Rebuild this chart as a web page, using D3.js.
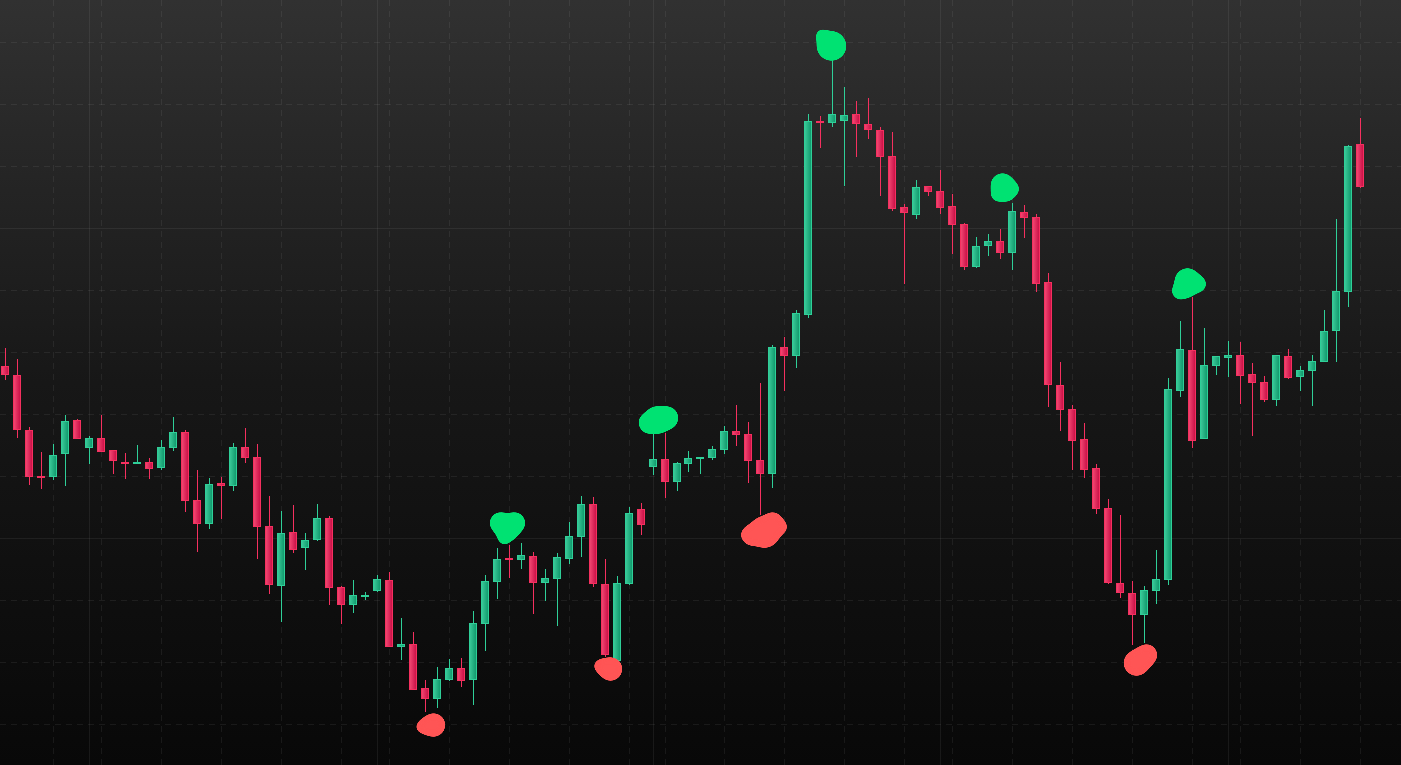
<!DOCTYPE html>
<html>
<head>
<meta charset="utf-8">
<script src="https://cdn.jsdelivr.net/npm/d3@7"></script>
<style>
  html, body { margin: 0; padding: 0; background: #0a0a0a; overflow: hidden; }
</style>
</head>
<body>
<div id="chart-area"></div>
<script>
// daily candles, oldest first
var opens = [43.4, 42.5, 37.0, 32.4, 32.3, 34.6, 38.0, 35.2, 36.2, 35.0,
    33.8, 33.8, 33.8, 33.2, 35.2, 36.8, 30.0, 27.6, 31.7, 31.4,
    35.3, 34.3, 27.4, 21.4, 26.8, 25.2, 26.0, 28.2, 21.3, 19.5,
    20.5, 20.9, 22.0, 15.3, 15.6, 11.2, 10.1, 12.0, 13.2, 12.0,
    17.6, 21.8, 24.2, 24.0, 24.4, 21.7, 22.1, 24.1, 26.3, 29.6,
    21.6, 13.9, 21.6, 29.1, 33.3, 34.1, 31.8, 33.6, 34.2, 34.2,
    35.0, 36.9, 36.6, 34.0, 32.6, 45.3, 44.4, 48.5, 67.9, 67.7,
    67.9, 68.6, 67.6, 67.0, 64.4, 59.3, 58.5, 61.4, 60.9, 59.4,
    57.6, 53.3, 55.4, 55.9, 54.7, 58.8, 58.3, 51.8, 41.5, 39.1,
    36.1, 33.2, 29.2, 21.7, 20.7, 18.5, 20.9, 22.0, 40.9, 45.0,
    36.1, 43.4, 44.2, 44.5, 42.6, 41.8, 40.0, 44.4, 42.3, 42.9,
    43.8, 46.9, 50.8, 65.6];
var highs = [45.2, 44.1, 37.3, 34.8, 35.6, 38.5, 38.1, 36.4, 38.5, 35.0,
    34.7, 35.5, 34.2, 36.0, 38.3, 37.0, 33.0, 32.2, 32.3, 35.7,
    37.2, 35.6, 30.4, 28.9, 29.5, 26.7, 29.6, 28.4, 21.4, 22.0,
    20.8, 22.5, 22.8, 18.2, 16.8, 12.0, 13.3, 14.1, 14.2, 18.9,
    22.5, 25.2, 25.5, 25.7, 24.8, 23.1, 24.7, 27.8, 30.4, 30.3,
    24.1, 22.4, 29.3, 29.7, 36.7, 36.7, 33.8, 34.9, 34.3, 35.4,
    37.4, 39.5, 37.8, 41.7, 45.5, 46.3, 49.0, 68.6, 68.4, 74.0,
    71.3, 69.9, 70.2, 67.3, 66.8, 59.6, 62.0, 61.4, 63.0, 60.6,
    57.7, 56.3, 56.6, 57.1, 59.7, 59.5, 58.6, 52.7, 43.8, 39.5,
    37.7, 33.6, 30.1, 28.5, 21.9, 21.4, 25.0, 42.2, 47.9, 50.3,
    47.2, 44.4, 45.9, 45.8, 43.7, 42.4, 44.5, 45.1, 43.4, 44.5,
    49.0, 58.1, 65.5, 68.2];
var lows = [42.0, 36.2, 31.5, 31.1, 32.0, 31.4, 36.1, 33.6, 34.8, 32.6,
    32.1, 33.8, 32.1, 33.0, 34.9, 28.8, 24.8, 27.1, 28.1, 30.9,
    33.7, 24.1, 20.6, 17.8, 24.7, 23.0, 25.9, 19.5, 17.6, 18.7,
    20.0, 20.8, 15.3, 14.0, 11.0, 8.8, 9.2, 11.9, 11.3, 9.5,
    14.9, 20.1, 22.2, 23.1, 18.6, 19.9, 17.4, 23.6, 24.3, 21.3,
    14.3, 13.6, 21.5, 26.5, 32.5, 30.2, 30.9, 32.8, 32.6, 34.0,
    34.6, 35.4, 31.7, 28.5, 31.2, 40.9, 43.2, 48.2, 65.2, 67.3,
    61.4, 64.3, 66.1, 60.4, 58.9, 51.6, 58.1, 60.4, 58.6, 54.6,
    53.0, 53.2, 54.4, 54.1, 53.0, 56.2, 50.8, 39.3, 36.9, 33.0,
    32.2, 28.6, 21.6, 20.2, 15.5, 15.7, 19.6, 21.5, 40.3, 35.2,
    36.1, 42.5, 42.3, 39.6, 36.4, 39.8, 39.4, 42.1, 40.9, 39.4,
    43.8, 43.8, 49.3, 61.2];
var closes = [42.5, 37.0, 32.3, 32.3, 34.5, 37.9, 36.1, 36.2, 34.8, 33.9,
    33.75, 33.85, 33.1, 35.3, 36.8, 29.9, 27.6, 31.6, 31.4, 35.3,
    34.2, 27.3, 21.5, 26.7, 25.0, 26.0, 28.2, 21.2, 19.5, 20.5,
    20.55, 22.1, 15.3, 15.6, 11.0, 10.1, 12.1, 13.2, 11.9, 17.7,
    21.9, 24.1, 24.1, 24.5, 21.7, 22.2, 24.3, 26.4, 29.6, 21.6,
    14.5, 21.7, 28.7, 27.5, 34.1, 31.8, 33.7, 34.2, 34.3, 35.1,
    36.9, 36.5, 33.9, 32.6, 45.3, 44.4, 48.7, 67.9, 67.8, 68.6,
    68.5, 67.6, 67.0, 64.3, 59.1, 58.7, 61.3, 60.8, 59.2, 57.5,
    53.3, 55.4, 55.9, 54.7, 58.9, 58.2, 51.6, 41.5, 39.0, 35.9,
    33.0, 29.1, 21.7, 20.7, 18.5, 21.0, 22.1, 41.1, 45.1, 35.9,
    43.5, 44.4, 44.5, 42.4, 41.7, 40.0, 44.5, 42.2, 43.0, 43.9,
    46.9, 50.9, 65.4, 61.3];

// grid: price levels, weekly and monthly session indices
var gridLevels = [75.8, 69.6, 63.4, 57.2, 51.0, 44.8, 38.6, 32.4, 26.2, 20.0, 13.8, 7.6];
var majorLevels = [57.2, 26.2];
var weekTicks = [4, 8, 13, 18, 23, 28, 32, 37, 42, 47, 52, 55, 60, 65, 70, 75, 79, 84, 89, 94, 99, 103, 108, 113];
var monthTicks = [7, 31, 54, 78, 102];

// swing markers
var markerCandles = [35, 42, 50, 55, 63, 69, 84, 94, 99];
var markerSides = ["low", "high", "low", "high", "low", "high", "high", "low", "high"];

var width = 1401,
    height = 765;

var candles = opens.map(function (o, i) {
    return {i: i, open: o, high: highs[i], low: lows[i], close: closes[i]};
});

var svg = d3.select("#chart-area")
    .append("svg")
    .attr("width", width)
    .attr("height", height)
    .style("display", "block");

var x = d3.scaleLinear()
    .domain([0, candles.length - 1])
    .range([5.5, 1360.5]);

var y = d3.scaleLinear()
    .domain([3.5, 80])
    .range([height, 0]);

function cx(i) { return Math.floor(x(i)) + 0.5; }

var defs = svg.append("defs");

var bg = defs.append("linearGradient")
    .attr("id", "bg")
    .attr("x1", 0).attr("y1", 0).attr("x2", 0).attr("y2", 1);
bg.append("stop").attr("offset", "0%").attr("stop-color", "#313131");
bg.append("stop").attr("offset", "50%").attr("stop-color", "#171717");
bg.append("stop").attr("offset", "100%").attr("stop-color", "#080808");

function bodyGradient(id, light, dark) {
    var g = defs.append("linearGradient")
        .attr("id", id)
        .attr("x1", 0).attr("y1", 0).attr("x2", 1).attr("y2", 0);
    g.append("stop").attr("offset", "0%").attr("stop-color", light);
    g.append("stop").attr("offset", "100%").attr("stop-color", dark);
}
bodyGradient("upBody", "#3dcb9b", "#0e976a");
bodyGradient("downBody", "#f44a74", "#c80d45");

// merges the lobes of a marker into one smooth blob
var goo = defs.append("filter")
    .attr("id", "goo")
    .attr("x", "-50%").attr("y", "-50%")
    .attr("width", "200%").attr("height", "200%");
goo.append("feGaussianBlur")
    .attr("in", "SourceGraphic")
    .attr("stdDeviation", 3.5)
    .attr("result", "blur");
goo.append("feColorMatrix")
    .attr("in", "blur")
    .attr("mode", "matrix")
    .attr("values", "1 0 0 0 0  0 1 0 0 0  0 0 1 0 0  0 0 0 20 -9");

var upLine = "#2fcf98",
    downLine = "#f5305f";

svg.append("rect")
    .attr("width", width)
    .attr("height", height)
    .attr("fill", "url(#bg)");

// horizontal grid
svg.append("g")
    .selectAll("line")
    .data(gridLevels)
    .enter()
    .append("line")
    .attr("x1", 0)
    .attr("x2", width)
    .attr("y1", function (d) { return Math.round(y(d)) + 0.5; })
    .attr("y2", function (d) { return Math.round(y(d)) + 0.5; })
    .attr("stroke", "rgba(255,255,255,0.065)")
    .attr("stroke-dasharray", function (d) { return majorLevels.indexOf(d) >= 0 ? null : "6,5"; });

// vertical grid
svg.append("g")
    .selectAll("line")
    .data(weekTicks)
    .enter()
    .append("line")
    .attr("x1", function (d) { return cx(d); })
    .attr("x2", function (d) { return cx(d); })
    .attr("y1", 0)
    .attr("y2", height)
    .attr("stroke", "rgba(255,255,255,0.065)")
    .attr("stroke-dasharray", "6,5");

svg.append("g")
    .selectAll("line")
    .data(monthTicks)
    .enter()
    .append("line")
    .attr("x1", function (d) { return cx(d); })
    .attr("x2", function (d) { return cx(d); })
    .attr("y1", 0)
    .attr("y2", height)
    .attr("stroke", "rgba(255,255,255,0.065)");

function isUp(d) { return d.close >= d.open; }

// wicks
svg.append("g")
    .selectAll("line")
    .data(candles)
    .enter()
    .append("line")
    .attr("x1", function (d) { return cx(d.i); })
    .attr("x2", function (d) { return cx(d.i); })
    .attr("y1", function (d) { return y(d.high); })
    .attr("y2", function (d) { return y(d.low); })
    .attr("stroke", function (d) { return isUp(d) ? upLine : downLine; })
    .attr("stroke-width", 1);

// bodies
svg.append("g")
    .selectAll("rect")
    .data(candles)
    .enter()
    .append("rect")
    .attr("x", function (d) { return cx(d.i) - 4; })
    .attr("y", function (d) { return Math.round(y(Math.max(d.open, d.close))) + 0.5; })
    .attr("width", 7)
    .attr("height", function (d) {
        var top = Math.round(y(Math.max(d.open, d.close))),
            bot = Math.round(y(Math.min(d.open, d.close)));
        return Math.max(bot - top, 2) - 1;
    })
    .attr("fill", function (d) { return isUp(d) ? "url(#upBody)" : "url(#downBody)"; })
    .attr("stroke", function (d) { return isUp(d) ? upLine : downLine; })
    .attr("stroke-width", 1);

// marker blobs: lobes [dx, dy, r] around the extreme of the candle
var blobLobes = [
    [[8, 13, 12], [1, 14, 9], [-4, 15, 6]],
    [[-9, -22, 11], [5, -22, 11], [-2, -17, 13], [-5, -7, 7]],
    [[5, 12, 12], [-1, 10, 9], [-5, 9, 7]],
    [[-16, -10, 11], [1, -15, 12], [-8, -13, 14], [-20, -12, 7]],
    [[4, 17, 16], [12, 8, 11], [-8, 20, 11], [19, 12, 8], [-12, 20, 8]],
    [[-1, -14, 15], [-8, -22, 8], [-11, -25, 6]],
    [[-10, -18, 12], [-2, -14, 9], [-14, -9, 8], [-6, -9, 8]],
    [[4, 18, 13], [14, 10, 11], [9, 14, 12]],
    [[-5, -16, 13], [5, -13, 9], [-12, -6, 9], [-5, -8, 9]]
];

var markers = markerCandles.map(function (ci, k) {
    var d = candles[ci];
    return {i: ci, side: markerSides[k], price: markerSides[k] === "high" ? d.high : d.low, lobes: blobLobes[k]};
});

var blobs = svg.append("g")
    .selectAll("g")
    .data(markers)
    .enter()
    .append("g")
    .attr("filter", "url(#goo)")
    .attr("fill", function (d) { return d.side === "high" ? "#00e272" : "#ff5454"; });

blobs.selectAll("circle")
    .data(function (d) {
        return d.lobes.map(function (l) { return {x: cx(d.i) + l[0], y: y(d.price) + l[1], r: l[2]}; });
    })
    .enter()
    .append("circle")
    .attr("cx", function (d) { return d.x; })
    .attr("cy", function (d) { return d.y; })
    .attr("r", function (d) { return d.r; });
</script>
</body>
</html>
